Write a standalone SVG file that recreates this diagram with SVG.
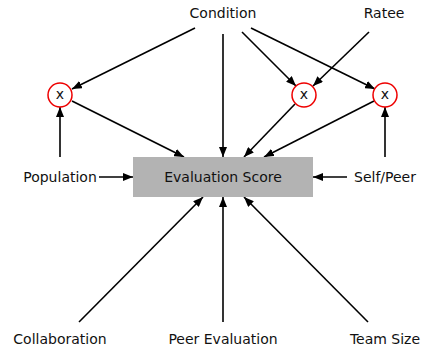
<svg xmlns="http://www.w3.org/2000/svg" width="429" height="352" viewBox="0 0 429 352">
  <style>
    text { font-family: "DejaVu Sans", "Liberation Sans", sans-serif; font-size: 14px; fill: #111; text-anchor: middle; dominant-baseline: central; }
    .edge { stroke: #000; stroke-width: 1.6; fill: none; marker-end: url(#arrow); }
    .mult { fill: #fff; stroke: #e00; stroke-width: 1.5; }
    .box { fill: #b3b3b3; }
  </style>
  <defs>
    <marker id="arrow" viewBox="0 0 10 8" refX="10" refY="4" markerWidth="10" markerHeight="8" markerUnits="userSpaceOnUse" orient="auto">
      <path d="M0,0 L10,4 L0,8 Z" fill="#000"/>
    </marker>
  </defs>

  <g id="connectors">
    <line class="edge" x1="195" y1="28" x2="72" y2="89"/>
    <line class="edge" x1="72" y1="101" x2="184" y2="157"/>
    <line class="edge" x1="60" y1="157" x2="60" y2="107"/>
    <line class="edge" x1="99" y1="177" x2="133" y2="177"/>
    <line class="edge" x1="223" y1="34" x2="223" y2="157"/>
    <line class="edge" x1="242" y1="32" x2="296" y2="86"/>
    <line class="edge" x1="251" y1="28" x2="375" y2="89"/>
    <line class="edge" x1="369" y1="32" x2="313" y2="86"/>
    <line class="edge" x1="295" y1="104" x2="244" y2="157"/>
    <line class="edge" x1="374" y1="101" x2="264" y2="157"/>
    <line class="edge" x1="385" y1="157" x2="385" y2="107"/>
    <line class="edge" x1="347" y1="177" x2="313" y2="177"/>
    <line class="edge" x1="79" y1="322" x2="203" y2="197"/>
    <line class="edge" x1="223" y1="322" x2="223" y2="197"/>
    <line class="edge" x1="368" y1="322" x2="244" y2="197"/>
  </g>

  <g id="evaluation-score">
    <rect class="box" x="133" y="157" width="180" height="40"/>
    <text x="223" y="177">Evaluation Score</text>
  </g>
  <g id="condition"><text x="223" y="13">Condition</text></g>
  <g id="ratee"><text x="384" y="13">Ratee</text></g>
  <g id="population"><text x="60" y="177">Population</text></g>
  <g id="self-peer"><text x="385" y="177">Self/Peer</text></g>
  <g id="collaboration"><text x="60" y="339">Collaboration</text></g>
  <g id="peer-evaluation"><text x="223" y="339">Peer Evaluation</text></g>
  <g id="team-size"><text x="385" y="339">Team Size</text></g>

  <g id="x-population">
    <circle class="mult" cx="60" cy="95" r="12"/>
    <text x="60" y="94">x</text>
  </g>
  <g id="x-condition-ratee">
    <circle class="mult" cx="304" cy="95" r="12"/>
    <text x="304" y="94">x</text>
  </g>
  <g id="x-condition-selfpeer">
    <circle class="mult" cx="385" cy="95" r="12"/>
    <text x="385" y="94">x</text>
  </g>
</svg>
